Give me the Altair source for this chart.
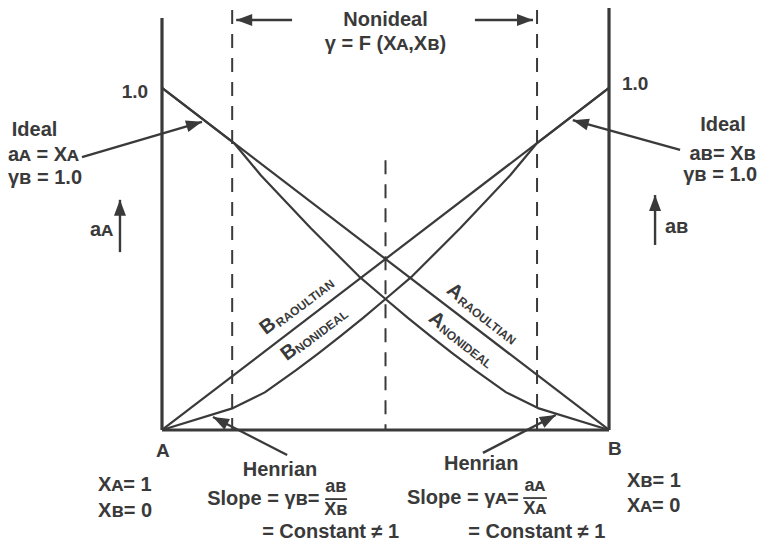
import math
import altair as alt
import pandas as pd

# ---------------- data (mole fraction of B on x, activity on y) ----------------
raoult_x = [0.0, 1.0]
a_A_raoultian = [1.0, 0.0]
a_B_raoultian = [0.0, 1.0]

xb_B_nonideal = [0.0, 0.159, 0.23, 0.30, 0.35, 0.40, 0.45, 0.50, 0.56, 0.667, 0.779, 0.839, 1.0]
a_B_nonideal = [0.0, 0.064, 0.11, 0.175, 0.224, 0.275, 0.328, 0.383, 0.450, 0.590, 0.745, 0.839, 1.0]
xb_A_nonideal = [1.0, 0.841, 0.77, 0.70, 0.65, 0.60, 0.55, 0.50, 0.44, 0.333, 0.221, 0.161, 0.0]
a_A_nonideal = [0.0, 0.064, 0.11, 0.175, 0.224, 0.275, 0.328, 0.383, 0.450, 0.590, 0.745, 0.839, 1.0]

# ---------------- layout constants ----------------
W, H = 753, 534
XDOM = [-0.3445, 1.340]
YDOM = [-0.3275, 1.2339]
INK = "#3a3a3a"
FONT = "Liberation Sans, Arial, DejaVu Sans, sans-serif"
PXX = W / (XDOM[1] - XDOM[0])
PXY = H / (YDOM[1] - YDOM[0])

xs = alt.Scale(domain=XDOM, nice=False, zero=False)
ys = alt.Scale(domain=YDOM, nice=False, zero=False)
X = lambda f="x": alt.X(f"{f}:Q", scale=xs, axis=None)
Y = lambda f="y": alt.Y(f"{f}:Q", scale=ys, axis=None)

# ---------------- curves ----------------
curves = pd.concat([
    pd.DataFrame({"x": raoult_x, "y": a_A_raoultian, "s": "A_raoultian"}),
    pd.DataFrame({"x": raoult_x, "y": a_B_raoultian, "s": "B_raoultian"}),
    pd.DataFrame({"x": xb_B_nonideal, "y": a_B_nonideal, "s": "B_nonideal"}),
    pd.DataFrame({"x": xb_A_nonideal, "y": a_A_nonideal, "s": "A_nonideal"}),
])
curve_layer = alt.Chart(curves).mark_line(
    color=INK, strokeWidth=2.2, interpolate="linear", strokeJoin="round"
).encode(x=X(), y=Y(), detail="s:N", order="x:Q")

# ---------------- frame (A and B axes, baseline) ----------------
frame = pd.DataFrame({
    "x": [0.0, 1.0, 0.0], "x2": [0.0, 1.0, 1.0],
    "y": [0.0, 0.0, 0.0], "y2": [1.205, 1.234, 0.0],
})
frame_layer = alt.Chart(frame).mark_rule(color=INK, strokeWidth=3.2).encode(
    x=X(), x2="x2:Q", y=Y(), y2="y2:Q")

dashes = pd.DataFrame({
    "x": [0.157, 0.839, 0.5], "y": [1.228, 1.228, 0.789], "y2": [0.0, 0.0, 0.0]
})
dash_layer = alt.Chart(dashes).mark_rule(
    color=INK, strokeWidth=2, strokeDash=[14, 10]
).encode(x=X(), y=Y(), y2="y2:Q")

# ---------------- arrows ----------------
arrows = pd.DataFrame({
    "x": [-0.179, 1.159, 0.291, 0.700, -0.094, 1.103, 0.280, 0.718],
    "y": [0.798, 0.819, 1.199, 1.199, 0.520, 0.541, -0.073, -0.067],
    "x2": [0.0895, 0.919, 0.166, 0.830, -0.094, 1.103, 0.114, 0.881],
    "y2": [0.901, 0.906, 1.199, 1.199, 0.673, 0.687, 0.038, 0.044],
})
arrows["ang"] = [
    math.degrees(math.atan2((x2 - x) * PXX, (y2 - y) * PXY)) % 360
    for x, y, x2, y2 in zip(arrows.x, arrows.y, arrows.x2, arrows.y2)
]
arrow_lines = alt.Chart(arrows).mark_rule(color=INK, strokeWidth=2.4).encode(
    x=X(), y=Y(), x2="x2:Q", y2="y2:Q")
arrow_heads = alt.Chart(arrows).mark_point(
    shape="M0,0 L0.75,2 L-0.75,2 Z", filled=True, color=INK, opacity=1,
    size=256, strokeWidth=0
).encode(x=X("x2"), y=Y("y2"), angle=alt.Angle("ang:Q", scale=None))

# fraction bars
fbars = pd.DataFrame({"x": [0.365, 0.808], "x2": [0.414, 0.861], "y": [-0.202, -0.199]})
fbar_layer = alt.Chart(fbars).mark_rule(color=INK, strokeWidth=1.8).encode(
    x=X(), x2="x2:Q", y=Y())

# ---------------- text ----------------
labels = [
    # text, x, y, size, angle, align
    ("Nonideal", 0.5, 1.199, 20, 0, "center"),
    ("γ = F (Xᴀ,Xʙ)", 0.5, 1.129, 20, 0, "center"),
    ("1.0", -0.031, 0.988, 19, 0, "right"),
    ("1.0", 1.029, 1.012, 19, 0, "left"),
    ("Ideal", -0.336, 0.877, 20, 0, "left"),
    ("aᴀ = Xᴀ", -0.3445, 0.804, 20, 0, "left"),
    ("γʙ = 1.0", -0.3445, 0.737, 20, 0, "left"),
    ("Ideal", 1.204, 0.892, 20, 0, "left"),
    ("aʙ= Xʙ", 1.180, 0.807, 20, 0, "left"),
    ("γʙ = 1.0", 1.166, 0.746, 20, 0, "left"),
    ("aᴀ", -0.161, 0.585, 20, 0, "left"),
    ("aʙ", 1.125, 0.594, 20, 0, "left"),
    ("A", 0.002, -0.061, 19, 0, "center"),
    ("B", 1.013, -0.056, 19, 0, "center"),
    ("Xᴀ= 1", -0.143, -0.161, 20, 0, "left"),
    ("Xʙ= 0", -0.143, -0.237, 20, 0, "left"),
    ("Xʙ= 1", 1.040, -0.149, 20, 0, "left"),
    ("Xᴀ= 0", 1.040, -0.222, 20, 0, "left"),
    ("Henrian", 0.264, -0.117, 20, 0, "center"),
    ("Henrian", 0.714, -0.099, 20, 0, "center"),
    ("Slope = γʙ=", 0.101, -0.203, 20, 0, "left"),
    ("Slope = γᴀ=", 0.548, -0.200, 20, 0, "left"),
    ("aʙ", 0.389, -0.168, 18, 0, "center"),
    ("Xʙ", 0.389, -0.233, 18, 0, "center"),
    ("aᴀ", 0.834, -0.165, 18, 0, "center"),
    ("Xᴀ", 0.834, -0.230, 18, 0, "center"),
    ("= Constant ≠ 1", 0.224, -0.297, 20, 0, "left"),
    ("= Constant ≠ 1", 0.685, -0.297, 20, 0, "left"),
    ("B", 0.237, 0.304, 20, 323, "center"),
    ("RAOULTIAN", 0.258, 0.309, 12, 323, "left"),
    ("B", 0.284, 0.228, 20, 323, "center"),
    ("NONIDEAL", 0.301, 0.232, 12, 323, "left"),
    ("A", 0.655, 0.404, 20, 38, "center"),
    ("RAOULTIAN", 0.665, 0.382, 12, 38, "left"),
    ("A", 0.615, 0.322, 20, 38, "center"),
    ("NONIDEAL", 0.624, 0.300, 12, 38, "left"),
]
lab = pd.DataFrame(labels, columns=["text", "x", "y", "size", "angle", "align"])


def text_layer(align):
    return alt.Chart(lab[lab["align"] == align]).mark_text(
        align=align, baseline="middle", font=FONT, fontWeight="bold", color=INK
    ).encode(
        x=X(), y=Y(), text="text:N",
        size=alt.Size("size:Q", scale=None),
        angle=alt.Angle("angle:Q", scale=None),
    )


chart = alt.layer(
    dash_layer, curve_layer, frame_layer, arrow_lines, arrow_heads, fbar_layer,
    text_layer("left"), text_layer("center"), text_layer("right"),
).properties(
    width=W, height=H, padding=0, autosize=alt.AutoSizeParams(type="none"),
    background="white",
).configure_view(stroke=None)

chart.save("out.html", embed_options={"renderer": "svg", "actions": False})
